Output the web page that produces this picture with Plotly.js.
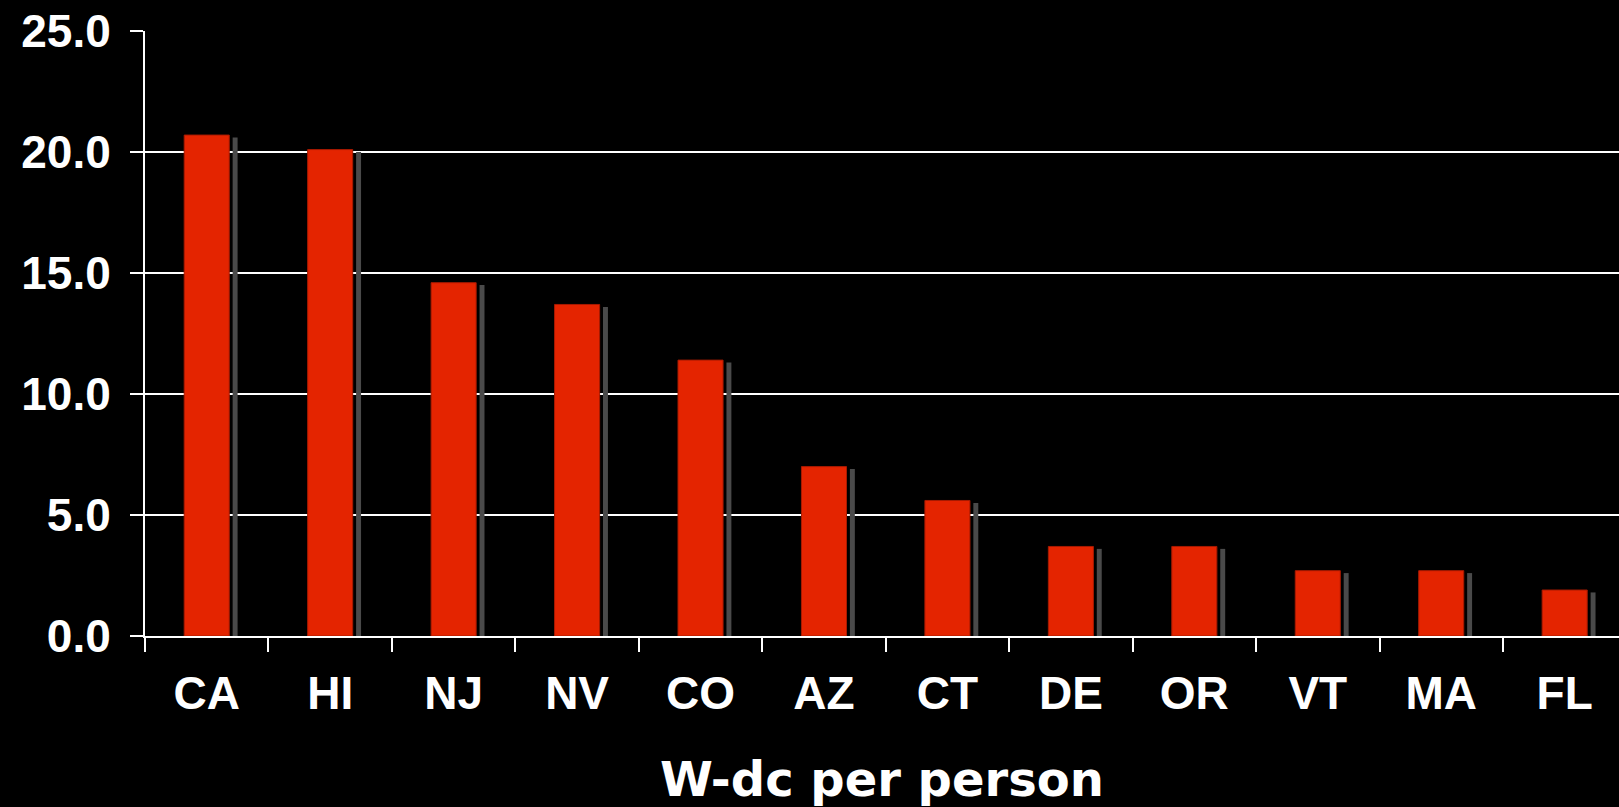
<!DOCTYPE html>
<html>
<head>
<meta charset="utf-8">
<script src="https://cdn.plot.ly/plotly-3.0.1.min.js"></script>
<style>
  html, body { margin: 0; padding: 0; background: #000; }
  #chart { width: 1619px; height: 807px; }
</style>
</head>
<body>
<div id="chart"></div>
<script>
const states = ['CA', 'HI', 'NJ', 'NV', 'CO', 'AZ', 'CT', 'DE', 'OR', 'VT', 'MA', 'FL'];
const wdcPerPerson = [20.7, 20.1, 14.6, 13.7, 11.4, 7.0, 5.6, 3.7, 3.7, 2.7, 2.7, 1.9];
const yTickValues = [0, 5, 10, 15, 20, 25];
const xAxisTitle = 'W-dc per person';

const shadowDrop = 0.1;

const shadowTrace = {
  type: 'bar',
  x: states,
  y: wdcPerPerson,
  base: states.map(() => -shadowDrop),
  width: 0.04,
  offset: 0.21,
  marker: { color: '#4a4a4a', line: { width: 0 } },
  hoverinfo: 'skip',
  showlegend: false
};

const mainTrace = {
  type: 'bar',
  x: states,
  y: wdcPerPerson,
  width: 0.365,
  offset: -0.1825,
  marker: { color: '#E42400', line: { color: '#A81A00', width: 1 } },
  hoverinfo: 'x+y',
  showlegend: false
};

const tickFont = { family: 'Liberation Sans, Arial, sans-serif', size: 46, color: '#ffffff', weight: 'bold' };

const layout = {
  width: 1619,
  height: 807,
  paper_bgcolor: '#000000',
  plot_bgcolor: '#000000',
  margin: { l: 145, r: 0, t: 31, b: 171 },
  barmode: 'overlay',
  showlegend: false,
  xaxis: {
    type: 'category',
    range: [-0.5, 11.44],
    tickson: 'boundaries',
    ticks: 'outside',
    ticklen: 14,
    tickwidth: 2,
    tickcolor: '#ffffff',
    showline: true,
    linecolor: '#ffffff',
    linewidth: 2,
    showgrid: false,
    tickfont: tickFont,
    ticklabelstandoff: 16,
    automargin: false,
    title: {
      text: xAxisTitle,
      font: { family: 'DejaVu Sans, Verdana, sans-serif', size: 48, color: '#ffffff', weight: 'bold' },
      standoff: 44
    }
  },
  yaxis: {
    range: [0, 25],
    tickvals: yTickValues,
    tickformat: '.1f',
    ticks: 'outside',
    ticklen: 13,
    tickwidth: 2,
    tickcolor: '#ffffff',
    showline: true,
    linecolor: '#ffffff',
    linewidth: 2,
    showgrid: true,
    gridcolor: '#ffffff',
    gridwidth: 2,
    zeroline: false,
    tickfont: tickFont,
    ticklabelstandoff: 10,
    automargin: false
  }
};

Plotly.newPlot('chart', [shadowTrace, mainTrace], layout, { displayModeBar: false, staticPlot: true });
</script>
</body>
</html>
